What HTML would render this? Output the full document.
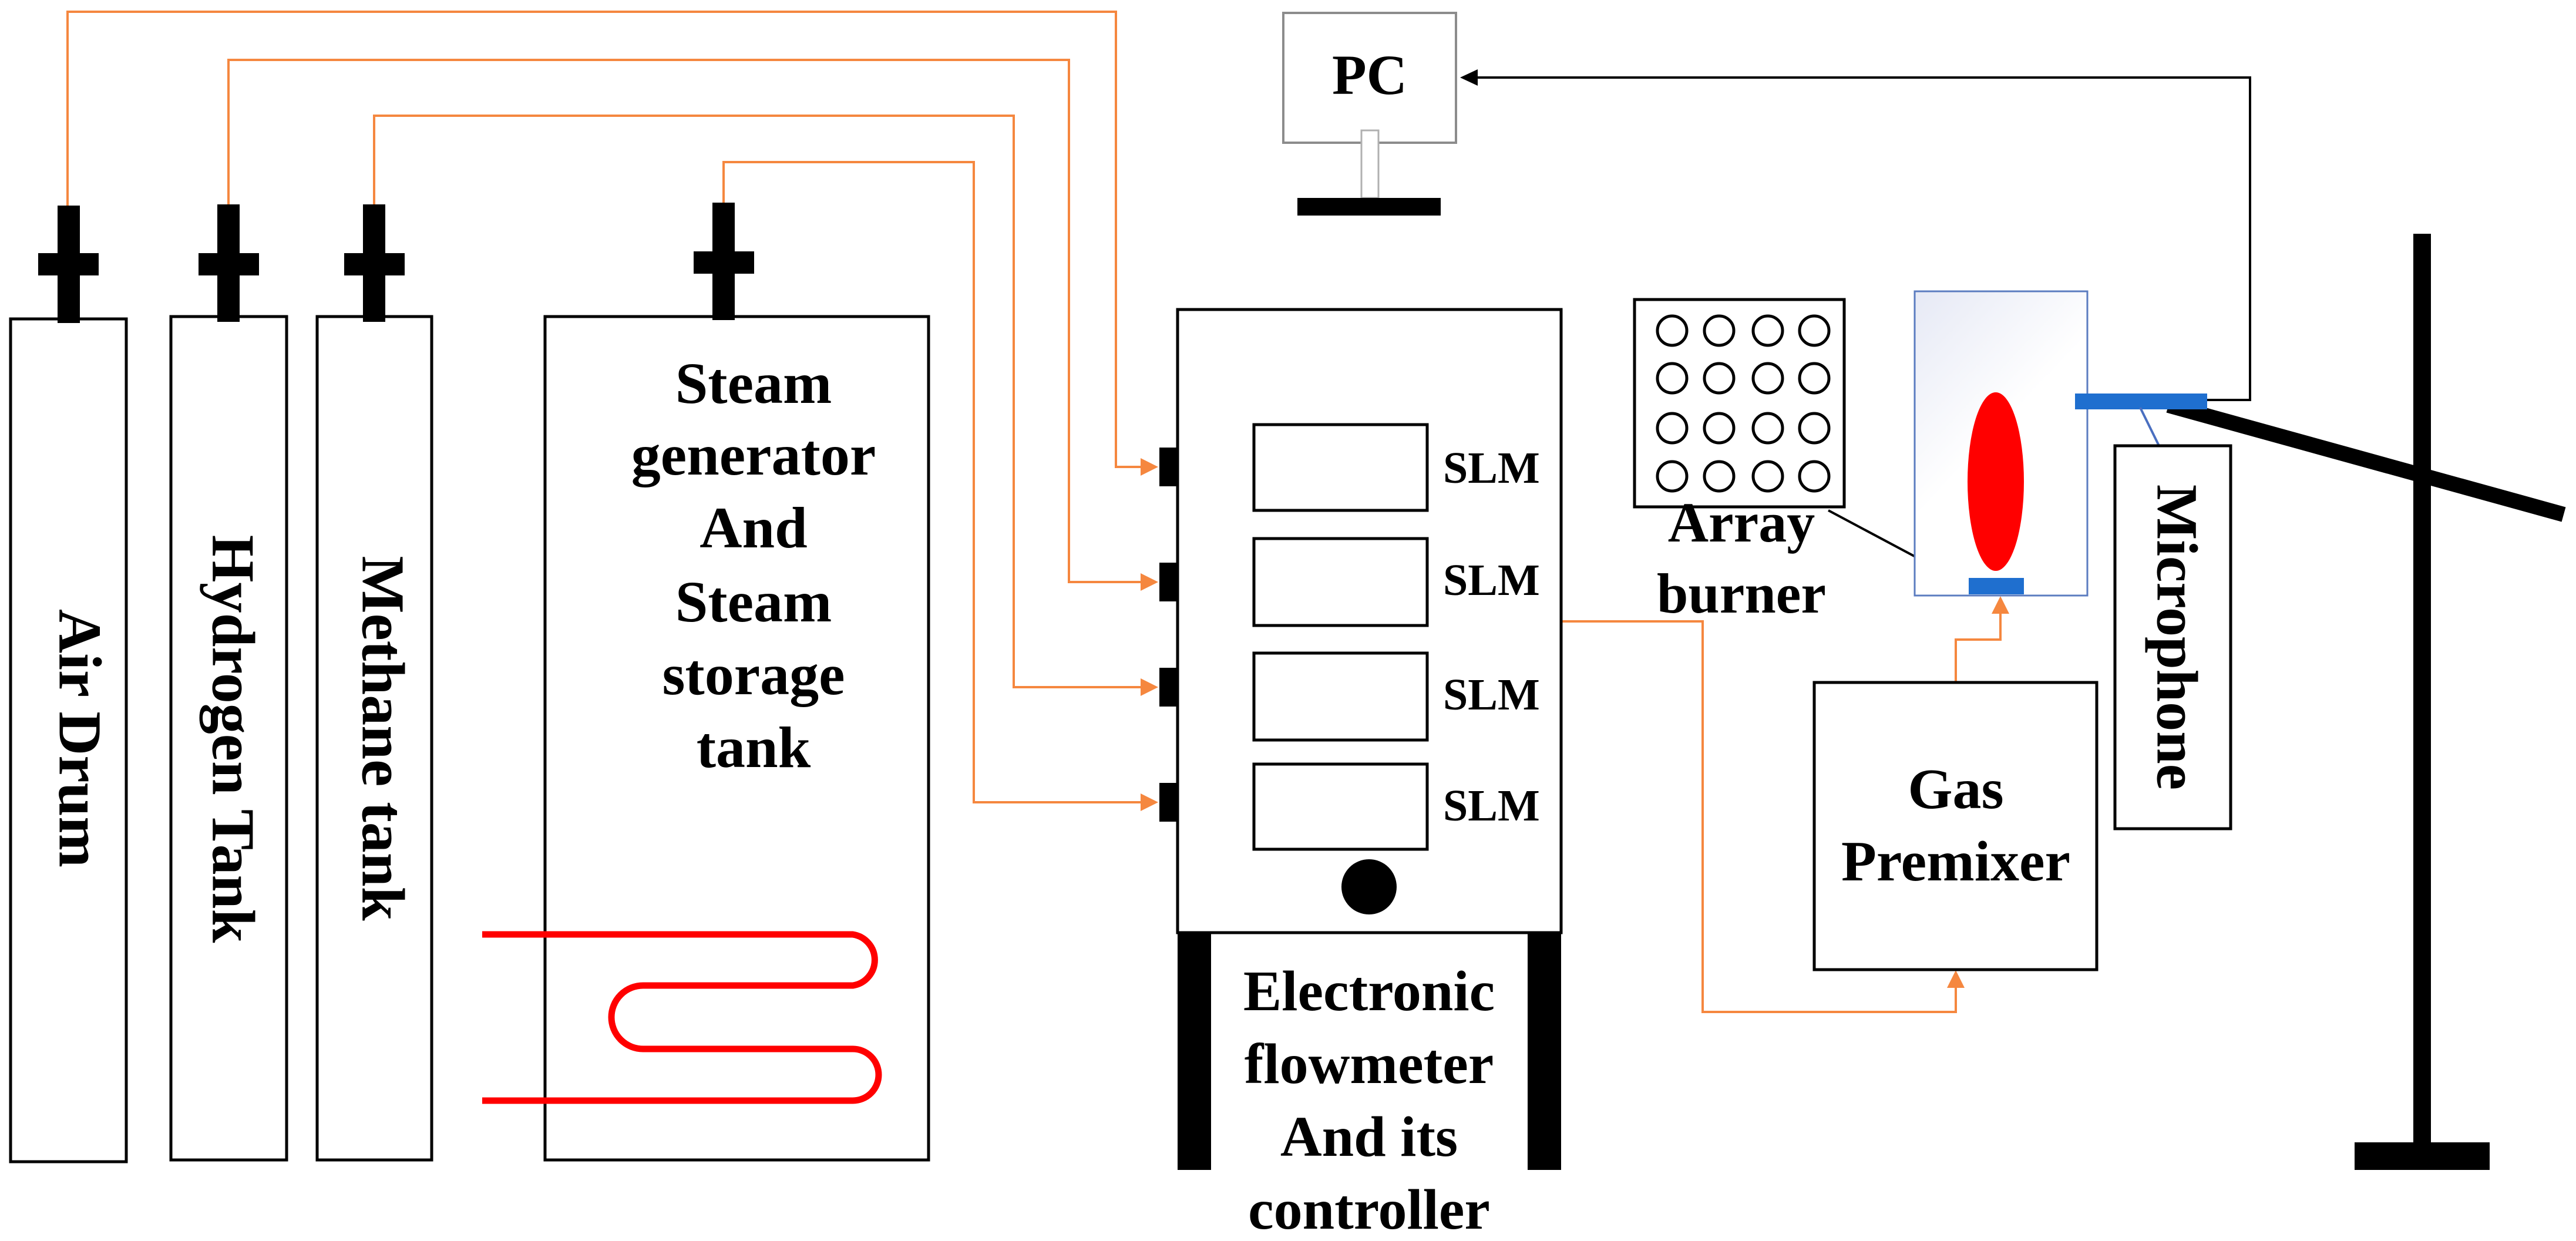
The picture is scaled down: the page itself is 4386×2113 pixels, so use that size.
<!DOCTYPE html>
<html><head><meta charset="utf-8"><style>
html,body{margin:0;padding:0;background:#fff;}
svg{display:block;}
svg text{font-family:"Liberation Serif","Times New Roman","DejaVu Serif",serif !important;font-weight:bold;fill:#000;}
</style></head><body>
<svg width="4386" height="2113" viewBox="0 0 4386 2113" xmlns="http://www.w3.org/2000/svg" font-family="Liberation Serif, DejaVu Serif, serif">
<defs>
<linearGradient id="g" x1="0" y1="0" x2="0.6" y2="1">
<stop offset="0" stop-color="#e6e9f5"/><stop offset="0.55" stop-color="#ffffff"/><stop offset="1" stop-color="#ffffff"/>
</linearGradient>
</defs>
<rect width="4386" height="2113" fill="#fff"/>

<g fill="none" stroke="#F5873F" stroke-width="4">
<polyline points="115,355 115,20 1900,20 1900,795 1948,795"/>
<polyline points="389,355 389,102 1820,102 1820,991 1948,991"/>
<polyline points="637,355 637,197 1726,197 1726,1170 1948,1170"/>
<polyline points="1232,355 1232,276 1658,276 1658,1366 1948,1366"/>
<polyline points="2658,1058 2899,1058 2899,1723 3330,1723 3330,1680"/>
<polyline points="3330,1162 3330,1089 3406,1089 3406,1045"/>
</g>
<g fill="#F5873F">
<polygon points="1972,795 1942,780 1942,810"/>
<polygon points="1972,991 1942,976 1942,1006"/>
<polygon points="1972,1170 1942,1155 1942,1185"/>
<polygon points="1972,1366 1942,1351 1942,1381"/>
<polygon points="3330,1652 3315,1682 3345,1682"/>
<polygon points="3406,1015 3391,1045 3421,1045"/>
</g>

<g fill="#fff" stroke="#000" stroke-width="5">
<rect x="18" y="543" width="197" height="1435"/>
<rect x="291" y="539" width="197" height="1436"/>
<rect x="540" y="539" width="195" height="1436"/>
<rect x="928" y="539" width="653" height="1436"/>
</g>
<g fill="#000">
<rect x="98" y="350" width="38" height="200"/><rect x="65" y="431" width="103" height="38"/>
<rect x="370" y="348" width="38" height="200"/><rect x="338" y="431" width="103" height="38"/>
<rect x="618" y="348" width="38" height="200"/><rect x="586" y="431" width="103" height="38"/>
<rect x="1213" y="345" width="38" height="200"/><rect x="1181" y="428" width="103" height="38"/>
</g>

<text transform="translate(136,1257) rotate(90)" font-size="104" text-anchor="middle" dominant-baseline="central">Air Drum</text>
<text transform="translate(397,1258) rotate(90)" font-size="104" text-anchor="middle" dominant-baseline="central">Hydrogen Tank</text>
<text transform="translate(652,1257) rotate(90)" font-size="104" text-anchor="middle" dominant-baseline="central">Methane tank</text>

<g font-size="100" text-anchor="middle">
<text x="1283" y="686">Steam</text>
<text x="1283" y="808">generator</text>
<text x="1283" y="932">And</text>
<text x="1283" y="1058">Steam</text>
<text x="1283" y="1182">storage</text>
<text x="1283" y="1306">tank</text>
</g>

<path d="M821,1591 L1452,1591 A44,44 0 0 1 1452,1678 L1095,1678 A54,54 0 0 0 1095,1786 L1452,1786 A44,44 0 0 1 1452,1874 L821,1874" fill="none" stroke="#FF0000" stroke-width="11"/>

<rect x="2005" y="527" width="653" height="1061" fill="#fff" stroke="#000" stroke-width="5"/>
<g fill="#000">
<rect x="1974" y="762" width="31" height="66"/>
<rect x="1974" y="958" width="31" height="66"/>
<rect x="1974" y="1137" width="31" height="66"/>
<rect x="1974" y="1333" width="31" height="66"/>
<rect x="2005" y="1588" width="57" height="404"/>
<rect x="2601" y="1588" width="57" height="404"/>
<ellipse cx="2331" cy="1510" rx="47" ry="47"/>
</g>
<g fill="#fff" stroke="#000" stroke-width="5">
<rect x="2135" y="723" width="295" height="146"/>
<rect x="2135" y="917" width="295" height="148"/>
<rect x="2135" y="1112" width="295" height="148"/>
<rect x="2135" y="1301" width="295" height="145"/>
</g>
<g font-size="76">
<text x="2457" y="822">SLM</text>
<text x="2457" y="1013">SLM</text>
<text x="2457" y="1208">SLM</text>
<text x="2457" y="1397">SLM</text>
</g>
<g font-size="98" text-anchor="middle">
<text x="2331" y="1720">Electronic</text>
<text x="2331" y="1844">flowmeter</text>
<text x="2331" y="1968">And its</text>
<text x="2331" y="2092">controller</text>
</g>

<rect x="2185" y="22" width="294" height="221" fill="#fff" stroke="#8c8c8c" stroke-width="4"/>
<text x="2332" y="160" font-size="96" text-anchor="middle">PC</text>
<rect x="2318" y="222" width="29" height="115" fill="#fff" stroke="#b0b0b0" stroke-width="3"/>
<rect x="2209" y="337" width="244" height="30" fill="#000"/>
<polyline points="3758,681 3831,681 3831,132 2510,132" fill="none" stroke="#000" stroke-width="4"/>
<polygon points="2486,132 2516,118 2516,146" fill="#000"/>

<rect x="3089" y="1162" width="481" height="489" fill="#fff" stroke="#000" stroke-width="5"/>
<g font-size="98" text-anchor="middle">
<text x="3330" y="1376">Gas</text>
<text x="3330" y="1499">Premixer</text>
</g>

<rect x="2783" y="510" width="357" height="353" fill="#fff" stroke="#000" stroke-width="5"/>
<g fill="none" stroke="#000" stroke-width="5">
<circle cx="2847" cy="563" r="25"/><circle cx="2927" cy="563" r="25"/><circle cx="3010" cy="563" r="25"/><circle cx="3089" cy="563" r="25"/>
<circle cx="2847" cy="644" r="25"/><circle cx="2927" cy="644" r="25"/><circle cx="3010" cy="644" r="25"/><circle cx="3089" cy="644" r="25"/>
<circle cx="2847" cy="729" r="25"/><circle cx="2927" cy="729" r="25"/><circle cx="3010" cy="729" r="25"/><circle cx="3089" cy="729" r="25"/>
<circle cx="2847" cy="811" r="25"/><circle cx="2927" cy="811" r="25"/><circle cx="3010" cy="811" r="25"/><circle cx="3089" cy="811" r="25"/>
</g>
<g font-size="96" text-anchor="middle">
<text x="2965" y="922">Array</text>
<text x="2965" y="1043">burner</text>
</g>
<line x1="3113" y1="869" x2="3355" y2="998" stroke="#000" stroke-width="4"/>

<rect x="3260" y="496" width="294" height="518" fill="url(#g)" stroke="#5b7cc0" stroke-width="3"/>
<ellipse cx="3398" cy="820" rx="48" ry="152" fill="#FF0000"/>
<rect x="3352" y="984" width="94" height="28" fill="#1f6fcf"/>

<line x1="3692" y1="690" x2="4365" y2="876" stroke="#000" stroke-width="26"/>
<rect x="4109" y="398" width="30" height="1550" fill="#000"/>
<rect x="4009" y="1945" width="230" height="47" fill="#000"/>

<rect x="3533" y="670" width="225" height="27" fill="#1f6fcf"/>
<line x1="3644" y1="694" x2="3676" y2="759" stroke="#4a6fc0" stroke-width="4"/>
<rect x="3601" y="759" width="197" height="652" fill="#fff" stroke="#000" stroke-width="5"/>
<text transform="translate(3707,1085) rotate(90)" font-size="100" text-anchor="middle" dominant-baseline="central">Microphone</text>
</svg>
</body></html>
